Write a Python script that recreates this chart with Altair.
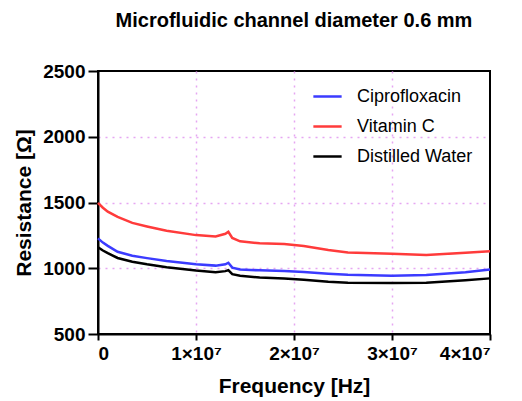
import altair as alt
import pandas as pd

freq = [0, 0.5e6, 1e6, 2e6, 3.5e6, 5e6, 7e6, 1e7, 1.2e7, 1.3e7, 1.33e7, 1.37e7,
        1.45e7, 1.65e7, 1.9e7, 2.1e7, 2.35e7, 2.55e7, 3.0e7, 3.35e7, 3.75e7, 4.0e7]
cipro = [1227, 1195, 1170, 1125, 1095, 1077, 1055, 1030, 1020, 1030, 1042, 1005,
         990, 984, 980, 972, 958, 950, 943, 948, 970, 991]
vitc = [1497, 1460, 1430, 1390, 1345, 1318, 1285, 1252, 1242, 1262, 1277, 1230,
        1205, 1190, 1185, 1170, 1138, 1120, 1110, 1100, 1118, 1130]
water = [1160, 1135, 1115, 1078, 1050, 1030, 1008, 983, 970, 978, 986, 955,
         943, 930, 922, 912, 897, 890, 887, 890, 908, 923]

series = ["Ciprofloxacin", "Vitamin C", "Distilled Water"]
colors = ["#3b3bff", "#ff3b3b", "#000000"]
x_ticks = [0, 1e7, 2e7, 3e7, 4e7]
y_ticks = [500, 1000, 1500, 2000, 2500]

rows = []
for name, vals in zip(series, [cipro, vitc, water]):
    for f, v in zip(freq, vals):
        rows.append({"Frequency": f, "Resistance": v, "Series": name})
df = pd.DataFrame(rows)

font = "Liberation Sans"

chart = alt.Chart(df).mark_line(strokeWidth=2.5).encode(
    x=alt.X("Frequency:Q",
            scale=alt.Scale(domain=[0, 4e7], nice=False, zero=False),
            axis=alt.Axis(title="Frequency [Hz]", values=x_ticks, tickSize=6,
                          labelExpr="datum.value == 0 ? '0' : format(datum.value/1e7, 'd') + '×10⁷'",
                          gridOpacity=alt.condition("datum.value == 0 || datum.value == 40000000",
                                                    alt.value(0), alt.value(1)),
                          titlePadding=12)),
    y=alt.Y("Resistance:Q",
            scale=alt.Scale(domain=[500, 2500], nice=False, zero=False),
            axis=alt.Axis(title="Resistance [Ω]", values=y_ticks, format="d", tickSize=10,
                          labelPadding=3,
                          gridOpacity=alt.condition("datum.value == 500 || datum.value == 2500",
                                                    alt.value(0), alt.value(1)),
                          titlePadding=8)),
    color=alt.Color("Series:N",
                    scale=alt.Scale(domain=series, range=colors),
                    sort=series,
                    legend=alt.Legend(title=None, orient="none", legendX=214, legendY=10,
                                      symbolType="stroke", symbolSize=800,
                                      symbolStrokeWidth=2.5, labelFontSize=18,
                                      labelFont=font, rowPadding=5, labelOffset=14,
                                      labelColor="black")),
    order=alt.Order("Frequency:Q"),
).properties(
    width=392,
    height=263,
    title=alt.TitleParams("Microfluidic channel diameter 0.6 mm", font=font,
                          fontSize=20, fontWeight="bold", offset=31, color="black"),
    autosize=alt.AutoSizeParams(type="none"),
    padding={"left": 98, "top": 71, "right": 32, "bottom": 67},
).configure_view(
    stroke="black", strokeWidth=2
).configure_axis(
    domainColor="black", domainWidth=2, tickColor="black", tickWidth=2,
    labelFont=font, labelFontSize=19, labelFontWeight="bold", labelColor="black",
    titleFont=font, titleFontSize=21, titleFontWeight="bold", titleColor="black",
    gridColor="#e6a6f2", gridDash=[2, 5], gridWidth=1.5, labelPadding=4,
)

chart.save("out.html", embed_options={"renderer": "svg", "actions": False})
